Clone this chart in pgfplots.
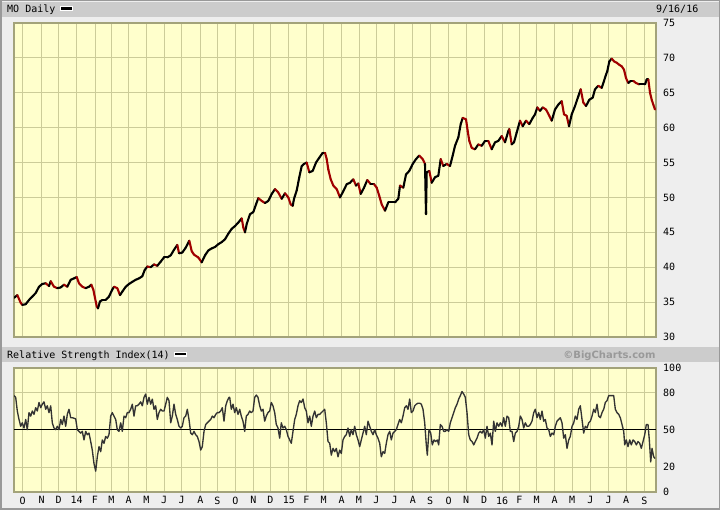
\documentclass[border=0pt]{standalone}
\usepackage{pgfplots}
\usepackage{pgfplotstable}
\pgfplotsset{compat=1.18}
\usepackage{fontspec}
\newfontfamily\chartmono{DejaVu Sans Mono}
\newfontfamily\chartsans{DejaVu Sans}
\definecolor{pagebg}{HTML}{EEEEEE}
\definecolor{headbg}{HTML}{CCCCCC}
\definecolor{plotbg}{HTML}{FFFFCC}
\definecolor{gridcol}{HTML}{CCCC99}
\definecolor{framecol}{HTML}{999999}
\definecolor{pricered}{HTML}{A00000}
\definecolor{brandgray}{HTML}{999999}
\newcommand\cf{\chartmono\fontsize{10bp}{12bp}\selectfont}

% price: x = horizontal position (px), y = price, c = 1 for a down move (red)
\pgfplotstableread{
x y c
14.0 35.6 0
17.3 36.0 1
20.7 34.9 1
22.3 34.6 0
25.7 34.7 0
29.0 35.3 0
32.3 35.8 0
35.7 36.3 0
39.0 37.2 0
42.3 37.6 0
45.7 37.7 1
49.0 37.3 0
50.7 38.0 1
54.0 37.2 1
57.3 37.0 0
60.7 37.1 0
64.0 37.5 1
67.3 37.2 0
70.7 38.2 0
74.0 38.4 0
76.7 38.6 1
79.0 37.7 1
82.3 37.2 1
85.7 37.0 0
89.0 37.2 0
91.3 37.5 1
93.3 36.8 1
95.0 35.6 1
96.7 34.4 1
98.0 34.1 0
100.0 35.1 0
102.3 35.3 0
105.7 35.3 0
109.0 35.8 0
112.3 36.8 0
114.0 37.2 1
117.3 37.0 1
120.0 36.0 0
122.3 36.5 0
125.7 37.2 0
129.0 37.6 0
132.3 37.9 0
135.7 38.2 0
139.0 38.4 0
142.3 38.7 0
144.7 39.6 0
147.3 40.1 1
150.7 40.0 0
154.0 40.4 1
157.3 40.2 0
160.7 40.8 0
164.0 41.4 0
167.3 41.4 0
170.7 41.7 0
174.0 42.5 0
177.3 43.2 1
179.0 42.0 0
182.3 42.1 0
185.7 42.8 0
189.3 43.8 1
191.7 42.3 1
194.0 41.8 1
198.3 41.4 1
201.7 40.7 0
205.0 41.7 0
208.3 42.4 0
211.7 42.7 0
215.0 42.9 0
218.3 43.3 0
221.7 43.6 0
225.0 44.0 0
228.3 44.8 0
231.7 45.5 0
235.0 45.9 0
238.3 46.4 0
241.7 47.0 1
243.3 45.7 1
245.0 45.0 0
246.7 46.2 0
250.0 47.6 0
253.3 47.9 0
256.0 49.0 0
258.3 49.9 1
261.7 49.5 1
265.0 49.2 0
268.3 49.5 0
271.7 50.5 0
275.0 51.2 1
278.3 50.7 1
281.7 49.8 0
285.0 50.6 1
288.3 50.0 1
290.7 49.0 1
292.7 48.8 0
294.0 49.8 0
296.7 51.0 0
299.3 52.9 0
301.7 54.5 0
304.0 54.8 0
306.7 55.0 1
309.3 53.6 0
312.7 53.8 0
316.0 55.0 0
319.3 55.7 0
322.7 56.4 0
325.0 56.4 1
326.7 55.5 1
328.3 54.0 1
330.7 52.6 1
333.3 51.7 1
336.7 51.2 1
340.0 50.0 0
343.3 50.9 0
346.7 51.9 0
350.0 52.1 0
353.3 52.6 1
356.0 51.7 0
358.3 52.0 1
360.7 50.5 0
364.0 51.4 0
367.3 52.5 1
370.7 51.9 0
374.0 51.9 1
376.7 51.4 1
379.3 50.2 1
381.7 49.0 1
385.0 48.1 0
388.3 49.3 0
391.7 49.3 0
395.0 49.3 0
398.3 49.8 0
400.0 51.7 1
403.3 51.4 0
406.0 53.3 0
409.3 53.8 0
412.7 54.8 0
416.0 55.5 0
419.3 56.0 1
422.7 55.5 1
425.0 54.8 0
426.0 47.6 0
426.7 53.6 0
429.3 53.8 1
431.7 52.1 0
435.0 52.9 0
438.3 53.1 0
440.7 55.5 1
443.3 54.5 0
446.7 54.8 1
450.0 54.5 0
452.7 56.0 0
455.0 57.4 0
458.3 58.6 0
460.7 60.5 0
462.7 61.4 1
466.0 61.2 1
467.7 59.5 1
469.3 58.1 1
471.7 57.1 1
475.0 56.9 0
478.3 57.6 1
481.7 57.4 0
485.0 58.1 0
488.3 58.1 1
491.7 56.9 0
495.0 57.9 0
498.3 58.1 0
501.7 58.8 1
505.0 57.9 0
508.3 59.5 0
509.3 59.8 1
511.7 57.6 0
514.0 57.9 0
516.7 59.3 0
520.0 61.0 1
522.7 60.2 0
526.0 61.0 1
529.3 60.5 0
532.7 61.4 0
535.0 61.9 0
537.3 62.9 1
540.0 62.4 0
542.7 62.9 1
546.0 62.6 1
549.3 61.7 1
551.7 61.0 0
555.0 62.6 0
558.3 63.3 0
561.7 63.8 1
564.0 61.9 1
566.7 61.7 1
569.0 60.2 0
571.7 61.9 0
575.0 63.1 0
578.3 64.5 0
580.7 65.5 1
583.3 63.6 1
586.0 63.1 0
589.3 64.0 0
592.7 64.3 0
595.0 65.5 0
598.3 66.0 1
601.7 65.7 0
604.0 66.7 0
606.0 67.6 0
607.3 68.1 0
609.3 69.5 0
611.7 69.9 1
614.0 69.5 1
616.7 69.3 1
619.3 69.0 1
621.7 68.8 1
624.0 68.3 1
626.0 67.1 1
628.3 66.4 0
630.7 66.7 0
633.3 66.7 1
636.0 66.4 1
639.3 66.2 0
642.7 66.2 0
645.0 66.2 0
646.7 66.9 0
648.3 66.9 1
650.0 65.0 1
651.7 64.0 1
653.3 63.3 1
655.0 62.6 0
}\pricedata

% RSI(14): x = horizontal position (px), r = RSI value
\pgfplotstableread{
x r
14.0 77.7
15.7 76.3
17.3 65.3
19.0 58.5
20.7 53.0
22.3 55.8
24.0 51.6
25.7 58.5
27.3 50.3
29.0 64.0
30.7 61.2
32.3 65.3
34.0 62.6
35.7 68.0
37.3 65.3
39.0 72.2
40.7 68.0
42.3 70.8
44.0 72.7
45.7 66.7
47.3 69.5
49.0 64.0
50.7 69.5
52.3 55.8
54.0 51.6
55.7 50.3
57.3 53.0
59.0 50.3
60.7 58.5
62.3 54.4
64.0 61.2
65.7 53.0
67.3 62.6
69.0 66.7
70.7 59.9
72.3 59.9
75.7 59.0
77.3 50.3
79.0 48.9
80.7 47.5
82.3 48.9
84.0 42.0
85.7 48.9
87.3 46.2
89.0 47.5
90.7 40.7
92.3 33.8
94.0 22.9
95.7 16.8
97.3 28.4
99.0 36.6
100.7 32.5
102.3 42.0
104.0 39.3
105.7 44.8
107.3 43.4
109.0 46.2
110.7 61.2
112.3 64.0
114.0 61.2
115.7 58.5
117.3 50.3
119.0 48.9
120.7 55.8
122.3 48.9
124.0 61.2
125.7 59.9
127.3 64.0
129.0 64.0
130.7 66.7
132.3 70.8
134.0 61.2
135.7 69.5
137.3 69.5
139.0 70.8
140.7 72.7
142.3 69.5
144.0 76.3
145.7 79.0
147.3 70.8
149.0 76.3
150.7 70.8
152.3 74.9
154.0 66.7
155.7 69.5
157.3 58.5
159.0 64.0
160.7 66.7
162.3 65.3
164.0 65.3
165.7 70.8
167.3 76.3
169.0 73.6
170.7 55.8
172.3 61.2
174.0 70.8
175.7 62.6
177.3 58.5
179.0 53.0
180.7 51.6
182.3 53.0
184.0 59.9
185.7 61.2
187.3 66.7
189.0 58.5
190.7 47.5
192.3 46.2
194.0 48.9
195.7 46.2
197.3 44.8
199.0 40.7
200.7 33.8
202.3 36.6
204.0 48.9
205.7 54.4
207.3 55.8
209.0 57.1
210.7 58.5
212.3 61.2
214.0 59.9
215.7 62.6
217.3 64.0
219.0 64.0
220.7 65.3
222.3 68.0
224.0 57.1
225.7 69.5
227.3 73.6
229.0 76.3
229.7 76.3
231.3 66.7
233.0 70.8
234.7 64.0
236.3 68.0
238.0 62.6
239.7 66.7
241.3 61.2
243.0 57.1
244.7 48.9
246.3 61.2
248.0 62.6
249.7 65.3
251.3 64.0
253.0 65.3
254.7 76.3
256.3 78.2
258.0 76.3
259.7 69.5
261.3 65.3
263.0 66.7
264.7 57.1
266.3 61.2
268.0 64.0
269.7 65.3
271.3 72.2
273.0 69.5
274.7 64.0
276.3 54.4
278.0 51.6
279.7 43.4
281.3 55.8
283.0 51.6
284.7 53.0
286.3 50.3
288.0 44.8
289.7 42.0
291.3 39.3
293.0 48.9
294.7 58.5
296.3 62.6
298.0 69.5
299.7 73.6
301.3 72.2
303.0 75.0
304.7 68.0
306.3 65.3
308.0 55.8
309.7 61.2
311.3 53.0
313.0 61.2
314.7 65.3
316.3 59.9
318.0 62.6
319.7 62.6
321.3 64.0
323.0 65.3
324.7 66.7
326.3 55.8
328.0 40.7
329.7 39.3
331.3 29.7
333.0 35.2
334.7 32.5
336.3 35.2
338.0 28.4
339.7 33.8
341.3 31.1
343.0 42.0
344.7 44.8
346.3 46.2
348.0 51.6
349.7 44.8
351.3 50.3
353.0 46.2
354.7 53.0
356.3 46.2
358.0 42.0
359.7 36.6
361.3 42.0
363.0 47.5
364.7 53.0
366.3 46.2
368.0 57.1
369.7 53.0
371.3 48.9
373.0 46.2
374.7 50.3
376.3 46.2
378.0 43.4
379.7 39.3
381.3 28.4
383.0 32.5
384.7 31.1
386.3 39.3
388.0 46.2
389.7 48.9
391.3 42.0
393.0 47.5
394.7 48.9
396.3 50.3
398.0 54.4
399.7 58.5
401.3 55.8
403.0 61.2
404.7 68.0
406.3 69.5
408.0 66.7
409.7 75.0
411.3 64.0
413.0 65.3
414.7 69.5
416.3 70.8
418.0 71.6
419.7 71.6
421.3 70.8
423.0 66.7
424.7 55.8
426.3 38.0
427.3 29.7
429.0 50.3
430.7 47.5
432.3 38.0
434.0 42.0
435.7 40.7
437.3 42.0
438.7 38.0
440.3 54.4
442.0 53.0
443.7 48.9
445.3 48.9
447.0 50.3
448.7 48.9
450.3 55.8
452.0 59.9
453.7 64.0
455.3 68.0
457.0 70.8
458.7 75.0
460.3 77.7
462.0 81.0
463.7 79.0
465.3 76.3
467.0 64.0
468.7 46.2
470.3 42.0
472.0 40.7
473.7 38.0
475.3 40.7
477.0 43.4
478.7 47.5
480.3 48.9
482.0 47.5
483.7 50.3
485.3 43.4
487.0 53.0
488.7 44.8
490.3 47.5
492.0 38.0
493.7 57.1
495.3 48.9
497.0 55.8
498.7 53.0
500.3 55.8
502.0 53.0
503.7 59.9
505.3 53.0
507.0 61.2
508.7 59.9
510.3 48.9
512.0 48.9
513.7 40.7
515.3 47.5
517.0 48.9
518.7 53.0
520.3 61.2
522.0 58.5
523.7 51.6
525.3 55.8
527.0 53.0
528.7 53.0
530.3 54.4
532.0 57.1
533.7 64.0
535.3 66.7
537.0 59.9
538.7 64.0
540.3 58.5
542.0 65.3
543.7 57.1
545.3 58.5
547.0 51.6
548.7 50.3
550.3 44.8
552.0 47.5
553.7 46.2
555.3 53.0
557.0 57.1
558.7 58.5
560.3 59.9
562.0 55.8
563.7 43.4
565.3 46.2
567.0 35.2
568.7 42.0
570.3 44.8
572.0 53.0
573.7 55.8
575.3 61.2
577.0 58.5
578.7 66.7
580.3 69.5
582.0 58.5
583.7 47.5
585.3 53.0
587.0 51.6
588.7 55.8
590.3 57.1
592.0 61.2
593.7 66.7
595.3 64.0
597.0 70.8
598.7 61.2
600.3 59.9
602.0 64.0
603.7 66.7
605.3 72.2
607.0 73.6
608.7 77.7
612.0 77.7
613.7 77.7
615.3 66.7
617.0 64.0
618.7 62.6
620.3 59.9
622.0 54.4
623.7 48.9
624.7 38.0
626.3 42.0
628.0 36.6
629.7 42.0
631.3 38.0
633.0 42.0
634.7 40.7
636.3 38.0
638.0 40.7
639.7 39.3
641.3 35.2
643.0 40.7
644.7 46.2
646.3 54.4
648.0 54.4
649.3 42.0
650.7 24.2
652.0 35.2
653.7 28.4
655.0 27.0
}\rsidata

\pgfplotsset{
  bcaxis/.style={
    scale only axis, width=642bp,
    xmin=14, xmax=656,
    xtick={22.7,41.7,58.7,76.7,95,111.5,128.6,146.3,164.1,181.7,200.3,217.5,235.3,253.5,270.5,288.8,306.5,323.7,341.7,359,376.3,394.5,412.8,430.2,448.5,466.2,484,502.2,519.3,536.7,554.6,572,590.3,608.5,626,644.3},
    grid=major,
    major grid style={draw=gridcol, line width=1bp},
    major tick length=0pt,
    axis line style={draw=gridcol!80!black, line width=1.2bp},
    axis background/.style={fill=plotbg},
    yticklabel pos=right,
    ticklabel style={font=\cf, text=black},
    yticklabel style={anchor=west, inner sep=0pt, xshift=7bp},
    clip=true,
  }
}

\begin{document}
\begin{tikzpicture}[x=1bp,y=1bp]
% page
\fill[pagebg] (0,0) rectangle (720,510);
\draw[framecol, line width=1.5bp] (0.75,0.75) rectangle (719.25,509.25);
% header bars
\fill[headbg] (1.5,493) rectangle (718.5,508);
\fill[headbg] (1.5,148) rectangle (718.5,163);
\node[anchor=base west, inner sep=0pt, font=\cf] at (7,497.3) {MO Daily};
\fill[white] (60,499) rectangle (73,504.3);
\fill[black] (61.3,500.2) rectangle (71.7,503.1);
\node[anchor=base east, inner sep=0pt, font=\cf] at (698.5,497.3) {9/16/16};
\node[anchor=base west, inner sep=0pt, font=\cf] at (7,151.7) {Relative Strength Index(14)};
\fill[white] (174,153.3) rectangle (186.7,158.3);
\fill[black] (175.3,154.5) rectangle (185.5,157.2);
\node[anchor=base east, inner sep=0pt, text=brandgray, font=\chartsans\bfseries\fontsize{10bp}{12bp}\selectfont] at (655.7,151.7) {©BigCharts.com};

% price panel
\begin{axis}[bcaxis, name=price,
  at={(14bp,173bp)}, anchor=south west, height=314bp,
  ymin=30, ymax=75,
  ytick={30,35,40,45,50,55,60,65,70,75},
  yticklabels={30,35,40,45,50,55,60,65,70,75},
  xticklabels={},
  colormap={pricemap}{color(0cm)=(black); color(1cm)=(pricered)},
  point meta min=0, point meta max=1,
]
\addplot[mesh, shader=flat corner, line width=2.1bp, line cap=round, line join=round, point meta=explicit]
  table[x=x, y=y, meta=c] {\pricedata};
\end{axis}

% RSI panel
\begin{axis}[bcaxis, name=rsi,
  at={(14bp,18bp)}, anchor=south west, height=124bp,
  ymin=0, ymax=100,
  ytick={0,20,50,80,100},
  yticklabels={0,20,50,80,100},
  xticklabels={O,N,D,14,F,M,A,M,J,J,A,S,O,N,D,15,F,M,A,M,J,J,A,S,O,N,D,16,F,M,A,M,J,J,A,S},
  xticklabel style={anchor=north, inner sep=0pt, yshift=-4.5bp},
]
\addplot[black, line width=1bp, forget plot] coordinates {(14,50) (656,50)};
\addplot[black!80, line width=1.35bp, line join=round] table[x=x, y=r] {\rsidata};
\end{axis}
\end{tikzpicture}
\end{document}
